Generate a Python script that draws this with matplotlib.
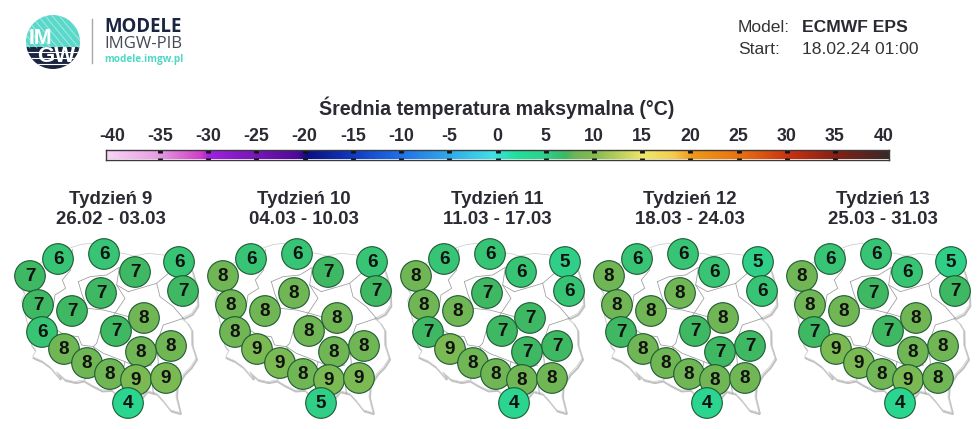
import numpy as np
import matplotlib
matplotlib.use("Agg")
import matplotlib.pyplot as plt
from matplotlib.colors import LinearSegmentedColormap, Normalize
from matplotlib.patches import Circle, Polygon, Rectangle

plt.rcParams['font.family'] = ['Liberation Sans', 'DejaVu Sans']

# ---------- data ----------
weeks = ["Tydzień 9", "Tydzień 10", "Tydzień 11", "Tydzień 12", "Tydzień 13"]
dates = ["26.02 - 03.03", "04.03 - 10.03", "11.03 - 17.03", "18.03 - 24.03", "25.03 - 31.03"]
week9 = [7, 6, 6, 7, 6, 7, 7, 7, 7, 8, 6, 7, 8, 8, 8, 8, 8, 9, 9, 4]
week10 = [8, 6, 6, 7, 6, 7, 8, 8, 8, 8, 8, 8, 8, 8, 9, 9, 8, 9, 9, 5]
week11 = [8, 6, 6, 6, 5, 6, 7, 8, 8, 7, 7, 7, 7, 7, 9, 8, 8, 8, 8, 4]
week12 = [8, 6, 6, 6, 5, 6, 8, 8, 8, 8, 7, 7, 7, 7, 8, 8, 8, 8, 8, 4]
week13 = [8, 6, 6, 6, 5, 7, 7, 8, 8, 8, 7, 7, 8, 8, 9, 9, 8, 9, 8, 4]
bar_ticks = list(range(-40, 45, 5))

# ---------- base-map geometry (pixels of the first panel) ----------
station_x = [30, 58, 104, 135, 179, 183, 101, 38, 72, 144, 42, 116, 171, 141, 64, 87, 110, 136, 166, 128]
station_y = [276, 259, 254, 272, 262, 291, 293, 305, 311, 318, 332, 331, 346, 352, 349, 363, 374, 380, 378, 403]
outline = np.array([
    (130, 95), (175, 70), (215, 52), (240, 44), (270, 40), (320, 58), (355, 68), (380, 72), (400, 78), (445, 70),
    (500, 76), (530, 78), (560, 85), (578, 130), (590, 175), (592, 225), (575, 250), (545, 265), (562, 280),
    (574, 300), (575, 345), (588, 385), (572, 410), (552, 430), (530, 465), (528, 500), (540, 548), (512, 540),
    (490, 512), (470, 490), (440, 482), (425, 500), (405, 505), (350, 495), (335, 478), (305, 480), (275, 465),
    (250, 450), (225, 455), (195, 448), (170, 425), (180, 445), (150, 410), (125, 392), (108, 385), (98, 380),
    (108, 362), (95, 345), (85, 290), (65, 210), (75, 190), (50, 150), (48, 125), (90, 115)
], float) / 3 + (0, 230)
borders = [
    [(217, 58), (212, 120), (187, 150), (197, 175), (165, 195), (160, 230), (140, 195)],
    [(235, 155), (270, 140), (320, 135), (358, 112), (350, 165), (385, 185)],
    [(235, 155), (245, 190), (262, 235), (310, 240), (350, 250), (385, 260)],
    [(350, 165), (375, 205), (345, 250), (320, 285), (300, 305), (290, 340), (280, 350)],
    [(470, 160), (480, 200), (520, 230), (550, 265)],
    [(385, 185), (470, 160), (505, 130)],
    [(550, 265), (490, 285), (470, 340), (475, 400), (455, 440), (460, 490)],
    [(170, 300), (195, 315), (235, 320), (245, 345), (280, 350), (310, 370), (375, 395), (420, 415), (455, 405)],
    [(280, 350), (295, 375), (310, 400), (300, 445)],
    [(165, 340), (210, 395), (225, 410), (250, 415), (255, 450)],
    [(375, 395), (365, 440), (395, 500)],
]

# ---------- colour scale ----------
cmap_stops = [
    (-40, "#f8d4f6"), (-35, "#e8a0e4"), (-30.5, "#d040c8"), (-29.5, "#a020e0"), (-25, "#7818b8"),
    (-20.5, "#50089a"), (-19.5, "#0a1080"), (-15, "#1038c0"), (-10, "#2070e8"), (-5, "#30a8e8"),
    (-0.5, "#40e0e8"), (2, "#1fe09a"), (5, "#2fd08a"), (7, "#3fb862"), (8, "#70b654"), (10, "#85bb50"),
    (15, "#f0e868"), (18, "#f4cc50"), (20, "#f09818"), (25, "#e87010"), (30, "#c83010"),
    (35, "#802018"), (40, "#3a2a28"),
]
norm = Normalize(-40, 40)
cmap = LinearSegmentedColormap.from_list("t", [(norm(v), c) for v, c in cmap_stops], N=512)

# ---------- figure ----------
W, H, DPI = 980, 429, 100
fig = plt.figure(figsize=(W / DPI, H / DPI), dpi=DPI, facecolor="white")
ax = fig.add_axes([0, 0, 1, 1])
ax.set_xlim(0, W)
ax.set_ylim(H, 0)
ax.axis("off")
DARK = "#2a2a32"

# logo
LCX, LCY, LR = 53, 42, 27
clip = Circle((LCX, LCY), LR, transform=ax.transData)
ax.add_patch(Rectangle((LCX - LR, LCY - LR), 2 * LR, LR + 5, fc="#5ad8ca", ec="none", clip_path=clip, zorder=2))
ax.add_patch(Rectangle((LCX - LR, LCY + 5), 2 * LR, LR, fc="#1b2540", ec="none", clip_path=clip, zorder=2))
for off in range(-30, 60, 7):
    l, = ax.plot([LCX - 30 + off, LCX + off], [LCY - 30, LCY + 6], color="white", lw=0.7, alpha=.45, zorder=3)
    l.set_clip_path(clip)
for yy in (LCY + 10, LCY + 16, LCY + 22):
    l, = ax.plot([LCX - LR, LCX + LR], [yy, yy], color="white", lw=0.8, zorder=3)
    l.set_clip_path(clip)
ax.text(40.5, 39, "IM", color="white", fontsize=15.5, fontweight="bold", ha="center", va="center", zorder=4)
ax.text(56, 57, "GW", color="white", fontsize=16, fontweight="bold", ha="center", va="center", zorder=4)
ax.plot([92, 92], [19, 63], color="#a8a8a8", lw=1)
ax.text(104, 26.5, "MODELE", color="#1b2540", fontsize=13.4, fontweight="bold", family=["Open Sans", "DejaVu Sans"], va="center")
ax.text(104, 44, "IMGW-PIB", color="#444a55", fontsize=12.1, family=["Open Sans", "DejaVu Sans"], va="center")
ax.text(104.5, 59.5, "modele.imgw.pl", color="#4fd8c4", fontsize=7.2, fontweight="bold", family=["Open Sans", "DejaVu Sans"], va="center")

# header
ax.text(738, 28, "Model:", color="#333333", fontsize=12.6, va="center")
ax.text(802, 28, "ECMWF EPS", color=DARK, fontsize=12.6, fontweight="bold", va="center")
ax.text(738, 50, "Start:", color="#333333", fontsize=12.6, va="center")
ax.text(802, 50, "18.02.24 01:00", color="#333333", fontsize=12.6, va="center")
ax.text(497, 108, "Średnia temperatura maksymalna (°C)", color=DARK, fontsize=14.1, fontweight="bold", ha="center", va="center")

# colour bar
x0, x1 = 106, 889
cax = fig.add_axes([x0 / W, 1 - 159.5 / H, (x1 - x0) / W, 9.5 / H])
cax.imshow(np.linspace(-40, 40, 800)[None, :], cmap=cmap, norm=norm, aspect="auto", extent=(-40.6, 40.6, 0, 1))
cax.set_yticks([])
cax.set_xticks(bar_ticks)
cax.set_xticklabels([str(v) for v in bar_ticks], fontsize=12.8, fontweight="bold", color=DARK)
cax.tick_params(axis="x", direction="in", top=True, bottom=True, labeltop=True, labelbottom=False,
                length=1.8, width=3.5, color="#111111", pad=3.5)
major = cax.xaxis.get_major_ticks()
for t in (major[0], major[-1]):
    t.tick1line.set_visible(False)
    t.tick2line.set_visible(False)
for s in cax.spines.values():
    s.set_linewidth(1)
    s.set_color("#3a3a3a")

# panels
panels = [week9, week10, week11, week12, week13]
PANEL_STEP = 193
for i, (wk, dt, vals) in enumerate(zip(weeks, dates, panels)):
    dx = i * PANEL_STEP
    ax.text(111 + dx, 199.5, wk, color=DARK, fontsize=13.4, fontweight="bold", ha="center", va="center")
    ax.text(111 + dx, 220, dt, color=DARK, fontsize=13.4, fontweight="bold", ha="center", va="center")
    ax.add_patch(Polygon(outline + (dx + 1, 1.5), closed=True, fc="white", ec="#c0c0c0", lw=1.4, zorder=2))
    ax.add_patch(Polygon(outline + (dx, 0), closed=True, fc="white", ec="#d0d0d0", lw=0.6, zorder=2))
    for b in borders:
        p = np.array(b, float) / 3 + (dx, 230)
        ax.plot(p[:, 0], p[:, 1], color="#9a9a9a", lw=0.55, zorder=3)
    for sx, sy, v in zip(station_x, station_y, vals):
        ax.add_patch(Circle((sx + dx, sy), 15.3, fc=cmap(norm(v)), ec="#1d5a34", lw=0.8, zorder=5))
        ax.text(sx + dx, sy + 0.5, str(v), color="#111111", fontsize=13.6, fontweight="bold", ha="center", va="center", zorder=6)

fig.savefig("out.png", dpi=DPI, facecolor="white")
